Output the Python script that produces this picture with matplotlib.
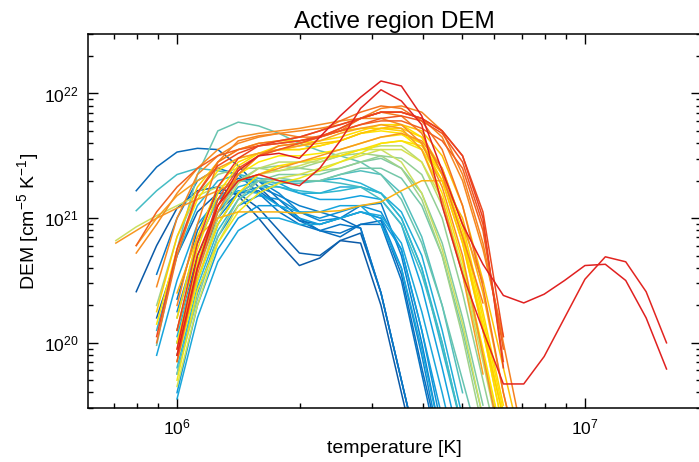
import numpy as np
import matplotlib
matplotlib.use("Agg")
import matplotlib.pyplot as plt
from matplotlib.colors import LinearSegmentedColormap

plt.rcParams['font.family'] = ['Liberation Sans', 'DejaVu Sans']
plt.rcParams['mathtext.fontset'] = 'custom'
plt.rcParams['mathtext.rm'] = 'Liberation Sans'
plt.rcParams['mathtext.default'] = 'regular'

# log10 temperature grid shared by all curves
logt_grid = [5.85, 5.90, 5.95, 6.00, 6.05, 6.10, 6.15, 6.20, 6.25, 6.30,
             6.35, 6.40, 6.45, 6.50, 6.55, 6.60, 6.65, 6.70, 6.75, 6.80,
             6.85, 6.90, 6.95, 7.00, 7.05, 7.10, 7.15, 7.20]

# each curve: first grid index, then log10 DEM values (blue -> red)
dem_start = [1, 2, 1, 3, 3,
             2, 3, 3, 3,
             3, 3, 3, 3, 2,
             2, 3, 1, 3,
             2, 3, 3,
             3, 2, 0,
             3, 3,
             3, 3, 2, 3, 3, 3,
             3, 2, 3,
             0, 1,
             1, 3, 3, 2, 2,
             1, 3, 2, 3,
             3, 3]

dem_log = [
    # dark blue
    [20.41, 20.78, 21.08, 21.22, 21.25, 21.18, 21.0, 20.8, 20.62, 20.68, 20.82, 20.8, 20.3, 19.6, 18.9],
    [20.2, 20.7, 21.05, 21.2, 21.2, 21.08, 20.9, 20.72, 20.7, 20.82, 20.88, 20.4, 19.7, 19.0],
    [21.22, 21.41, 21.53, 21.56, 21.55, 21.42, 21.25, 21.1, 20.98, 20.95, 21.0, 20.92, 20.4, 19.7, 19.0],
    [20.1, 20.7, 21.05, 21.2, 21.22, 21.1, 20.98, 20.9, 20.85, 20.95, 20.98, 20.55, 19.8, 19.1],
    [20.35, 20.9, 21.2, 21.32, 21.3, 21.15, 21.0, 20.9, 20.88, 20.95, 20.95, 20.5, 19.75, 19.0],
    # blue
    [20.55, 21.0, 21.3, 21.4, 21.35, 21.2, 21.05, 20.95, 20.9, 20.95, 20.92, 20.4, 19.7, 19.0],
    [20.0, 20.6, 21.0, 21.2, 21.25, 21.18, 21.1, 21.05, 21.0, 21.1, 21.12, 20.7, 20.0, 19.2],
    [20.25, 20.8, 21.15, 21.3, 21.3, 21.2, 21.05, 20.98, 21.0, 21.05, 21.0, 20.6, 19.9, 19.1],
    [19.75, 20.4, 20.85, 21.1, 21.18, 21.15, 21.05, 21.0, 21.05, 21.1, 21.05, 20.75, 20.1, 19.3],
    # light blue
    [19.6, 20.3, 20.75, 21.0, 21.1, 21.1, 21.0, 20.95, 21.0, 21.05, 21.0, 20.75, 20.1, 19.4],
    [19.9, 20.5, 20.95, 21.2, 21.3, 21.28, 21.2, 21.15, 21.15, 21.18, 21.15, 20.95, 20.45, 19.8, 19.1],
    [19.55, 20.2, 20.65, 20.9, 21.0, 21.0, 20.95, 20.95, 21.0, 21.05, 21.02, 20.8, 20.25, 19.6, 18.9],
    [20.05, 20.65, 21.05, 21.25, 21.3, 21.25, 21.2, 21.2, 21.25, 21.25, 21.2, 21.05, 20.7, 20.1, 19.4],
    [19.9, 20.5, 20.95, 21.15, 21.22, 21.2, 21.1, 21.05, 21.05, 21.1, 21.1, 20.95, 20.6, 19.95, 19.2],
    # cyan / teal
    [20.1, 20.7, 21.1, 21.3, 21.35, 21.32, 21.3, 21.3, 21.3, 21.32, 21.28, 21.2, 21.0, 20.6, 20.0, 19.3],
    [19.8, 20.45, 20.9, 21.15, 21.25, 21.25, 21.22, 21.2, 21.22, 21.25, 21.2, 21.0, 20.6, 19.95, 19.3],
    [21.06, 21.22, 21.35, 21.4, 21.38, 21.35, 21.3, 21.28, 21.3, 21.3, 21.28, 21.25, 21.15, 20.95, 20.55, 20.0, 19.3],
    [20.2, 20.8, 21.15, 21.3, 21.3, 21.28, 21.28, 21.3, 21.35, 21.38, 21.35, 21.2, 20.85, 20.3, 19.6],
    # sea green
    [19.98, 20.75, 21.35, 21.7, 21.77, 21.74, 21.68, 21.6, 21.54, 21.5, 21.45, 21.35, 21.15, 20.8, 20.3, 19.7, 19.1],
    [19.9, 20.5, 20.95, 21.2, 21.3, 21.32, 21.3, 21.3, 21.35, 21.4, 21.4, 21.32, 21.1, 20.7, 20.1, 19.4],
    [19.75, 20.35, 20.85, 21.15, 21.3, 21.35, 21.35, 21.35, 21.4, 21.45, 21.48, 21.4, 21.2, 20.8, 20.2, 19.5],
    # light green
    [20.0, 20.6, 21.05, 21.3, 21.4, 21.42, 21.4, 21.38, 21.4, 21.45, 21.5, 21.48, 21.35, 21.0, 20.4, 19.7, 19.0],
    [20.3, 20.85, 21.2, 21.35, 21.4, 21.4, 21.38, 21.4, 21.45, 21.5, 21.52, 21.5, 21.4, 21.15, 20.7, 20.05, 19.3],
    [20.82, 20.93, 21.02, 21.1, 21.18, 21.25, 21.3, 21.35, 21.38, 21.42, 21.47, 21.52, 21.55, 21.55, 21.45, 21.2,
     20.75, 20.15, 19.4],
    # yellow green
    [19.85, 20.5, 21.0, 21.28, 21.4, 21.45, 21.45, 21.45, 21.5, 21.55, 21.58, 21.58, 21.45, 21.1, 20.55, 19.85, 19.1],
    [19.65, 20.3, 20.8, 21.1, 21.25, 21.32, 21.35, 21.4, 21.45, 21.5, 21.55, 21.55, 21.45, 21.15, 20.6, 19.9, 19.2],
    # yellow
    [19.7, 20.42, 20.8, 21.05, 21.2, 21.28, 21.32, 21.38, 21.45, 21.52, 21.6, 21.62, 21.55, 21.3, 20.8, 20.1, 19.3],
    [20.0, 20.65, 21.1, 21.35, 21.45, 21.5, 21.5, 21.52, 21.55, 21.6, 21.65, 21.67, 21.6, 21.35, 20.85, 20.15, 19.4],
    [20.15, 20.75, 21.15, 21.38, 21.48, 21.52, 21.55, 21.55, 21.58, 21.62, 21.68, 21.7, 21.68, 21.55, 21.2, 20.65,
     19.95, 19.2],
    [19.85, 20.5, 20.95, 21.2, 21.35, 21.42, 21.45, 21.48, 21.5, 21.55, 21.6, 21.62, 21.58, 21.35, 20.9, 20.2, 19.45],
    [20.2, 20.85, 21.25, 21.45, 21.52, 21.55, 21.55, 21.58, 21.62, 21.68, 21.72, 21.72, 21.65, 21.4, 20.95, 20.25, 19.5],
    [20.1, 20.75, 21.2, 21.42, 21.52, 21.58, 21.6, 21.62, 21.65, 21.7, 21.75, 21.75, 21.65, 21.35, 20.85, 20.1, 19.3],
    # gold
    [20.4, 20.85, 21.0, 21.05, 21.05, 21.05, 21.04, 21.05, 21.06, 21.1, 21.13, 21.22, 21.3, 21.3, 21.0, 20.4, 19.6, 18.9],
    [20.25, 20.85, 21.25, 21.45, 21.55, 21.6, 21.62, 21.62, 21.65, 21.7, 21.72, 21.72, 21.7, 21.6, 21.3, 20.8, 20.1, 19.4],
    [19.95, 20.6, 21.1, 21.35, 21.5, 21.55, 21.58, 21.6, 21.62, 21.68, 21.72, 21.75, 21.7, 21.5, 21.1, 20.5, 19.8, 19.1],
    # orange
    [20.8, 20.9, 21.0, 21.08, 21.15, 21.22, 21.3, 21.35, 21.4, 21.45, 21.5, 21.55, 21.6, 21.65, 21.68, 21.62, 21.4,
     20.95, 20.48],
    [20.78, 21.0, 21.18, 21.3, 21.4, 21.48, 21.52, 21.55, 21.58, 21.62, 21.68, 21.72, 21.75, 21.72, 21.55, 21.15,
     20.55, 19.75],
    [20.72, 20.95, 21.2, 21.4, 21.55, 21.65, 21.68, 21.7, 21.72, 21.75, 21.78, 21.8, 21.8, 21.75, 21.6, 21.25, 20.7,
     19.9, 19.1],
    [20.3, 20.95, 21.45, 21.62, 21.66, 21.68, 21.65, 21.65, 21.7, 21.8, 21.88, 21.9, 21.85, 21.7, 21.35, 20.8, 20.0, 19.2],
    [19.9, 20.55, 21.05, 21.35, 21.5, 21.58, 21.6, 21.65, 21.72, 21.8, 21.85, 21.82, 21.68, 21.35, 20.85, 20.32],
    [20.0, 20.7, 21.2, 21.45, 21.55, 21.6, 21.62, 21.65, 21.7, 21.78, 21.85, 21.9, 21.88, 21.78, 21.55, 21.1, 20.45,
     19.6, 18.9],
    [20.45, 21.0, 21.35, 21.5, 21.6, 21.65, 21.68, 21.7, 21.72, 21.75, 21.8, 21.85, 21.85, 21.8, 21.65, 21.3, 20.75,
     20.05],
    # orange red
    [20.78, 21.05, 21.25, 21.4, 21.5, 21.55, 21.58, 21.6, 21.62, 21.66, 21.7, 21.75, 21.78, 21.78, 21.72, 21.62, 21.4,
     20.9, 19.95],
    [19.85, 20.6, 21.15, 21.4, 21.5, 21.55, 21.6, 21.65, 21.7, 21.75, 21.8, 21.82, 21.78, 21.68, 21.45, 20.95, 19.85],
    [20.05, 20.75, 21.2, 21.42, 21.52, 21.58, 21.6, 21.62, 21.65, 21.72, 21.8, 21.85, 21.85, 21.8, 21.7, 21.5, 21.05,
     20.05],
    [20.1, 20.8, 21.25, 21.48, 21.58, 21.62, 21.65, 21.7, 21.75, 21.8, 21.85, 21.85, 21.8, 21.7, 21.5, 21.0, 19.8],
    # red, with the hot component
    [19.9, 20.6, 21.1, 21.38, 21.5, 21.52, 21.48, 21.65, 21.82, 21.97, 22.1, 22.06, 21.82, 21.38, 20.95, 20.63,
     20.38, 20.32, 20.39, 20.5, 20.62, 20.63, 20.5, 20.2, 19.79],
    [19.95, 20.7, 21.1, 21.3, 21.35, 21.3, 21.26, 21.4, 21.62, 21.88, 22.03, 21.94, 21.75, 21.1, 20.55, 20.1,
     19.67, 19.67, 19.89, 20.2, 20.51, 20.69, 20.65, 20.41, 20.0],
]

# colour position of each curve along the rainbow table
curve_cpos = [0.0, 0.03, 0.06, 0.08, 0.10,
              0.12, 0.14, 0.16, 0.18,
              0.21, 0.23, 0.25, 0.27, 0.24,
              0.30, 0.32, 0.35, 0.37,
              0.40, 0.42, 0.44,
              0.47, 0.49, 0.55,
              0.53, 0.56,
              0.60, 0.62, 0.63, 0.64, 0.66, 0.65,
              0.74, 0.69, 0.71,
              0.80, 0.78,
              0.82, 0.84, 0.85, 0.87, 0.83,
              0.90, 0.92, 0.94, 0.95,
              1.0, 0.99]

cmap = LinearSegmentedColormap.from_list('dem', [
    (0.00, '#0a5aa8'), (0.12, '#0878c8'), (0.22, '#10a0e0'), (0.32, '#30b8d0'),
    (0.40, '#68c4b0'), (0.48, '#98d090'), (0.55, '#cce060'), (0.62, '#ffe800'),
    (0.70, '#ffc800'), (0.78, '#f8a020'), (0.86, '#f57a20'), (0.93, '#ef5020'),
    (1.00, '#e02020')])

fig = plt.figure(figsize=(6.99, 4.62), dpi=100)
ax = fig.add_axes([88 / 699, 54 / 462, 612.5 / 699, 374 / 462])

for start, vals, c in zip(dem_start, dem_log, curve_cpos):
    t = 10 ** np.array(logt_grid[start:start + len(vals)])
    ax.plot(t, 10 ** np.array(vals), color=cmap(c), lw=1.1)

ax.set_xscale('log')
ax.set_yscale('log')
ax.set_xlim(6.05e5, 1.92e7)
ax.set_ylim(3e19, 3e22)

ax.tick_params(which='both', direction='in', top=True, right=True, labelsize=12.5, width=1)
ax.tick_params(which='major', length=7.5, pad=7)
ax.tick_params(which='minor', length=3.8)
for s in ax.spines.values():
    s.set_linewidth(1.1)

ax.set_title('Active region DEM', fontsize=17.5, pad=4)
ax.set_xlabel('temperature [K]', fontsize=14, labelpad=2)
ax.set_ylabel('DEM [cm$^{-5}$ K$^{-1}$]', fontsize=14, labelpad=2)

fig.savefig('out.png', dpi=100)
